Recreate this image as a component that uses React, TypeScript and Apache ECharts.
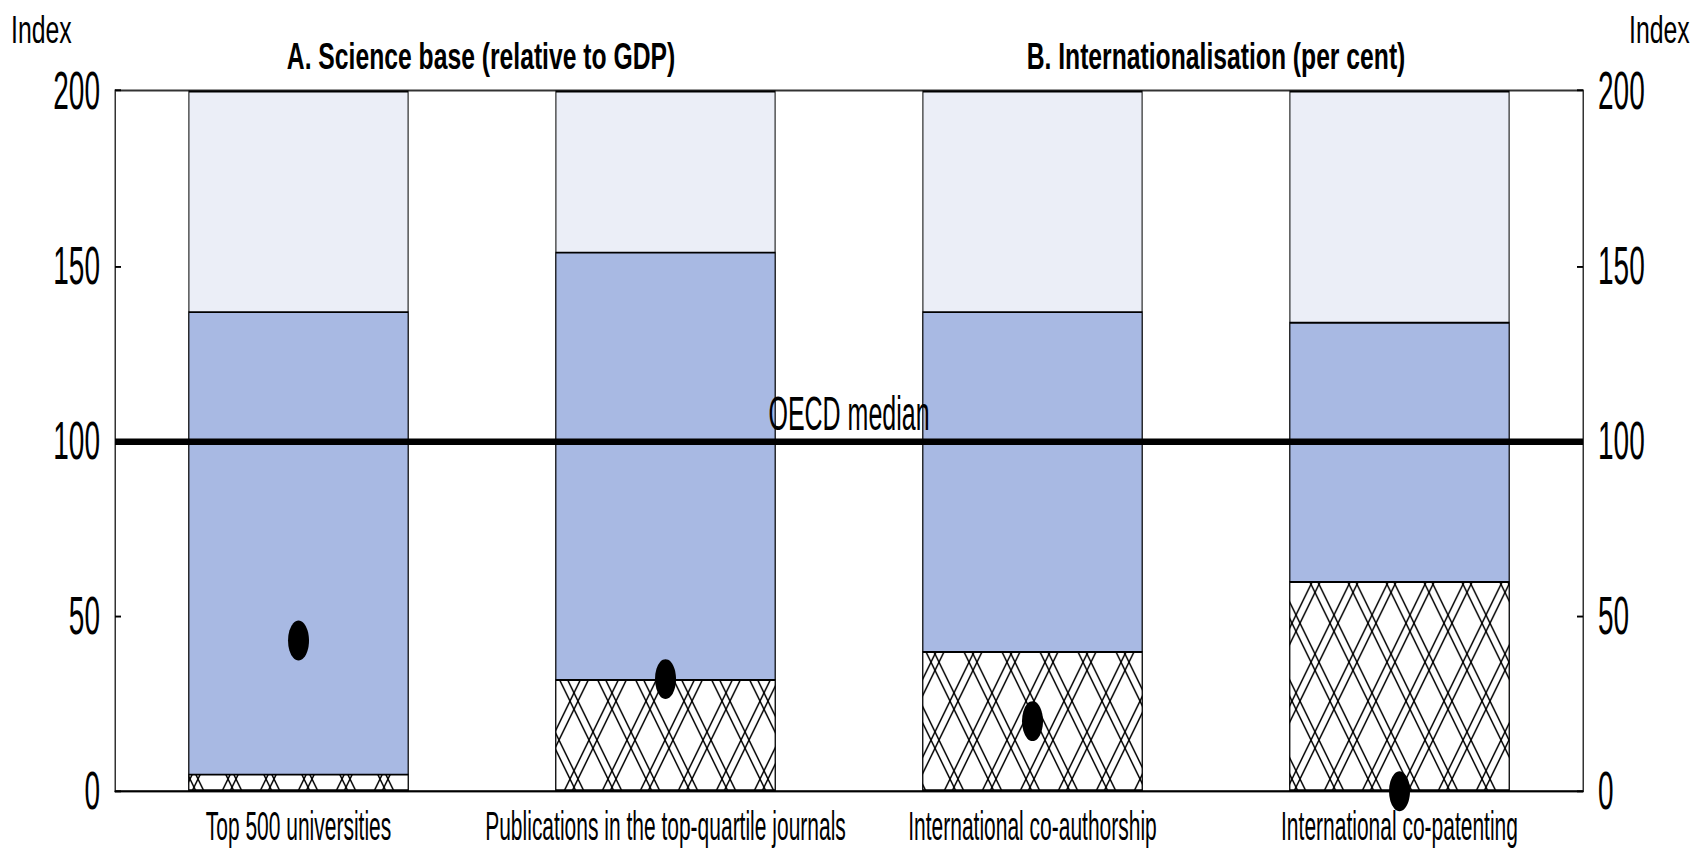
import React, { useEffect, useRef } from "react";
import * as echarts from "echarts";

// ---- data ----
const categories = [
  "Top 500 universities",
  "Publications in the top-quartile journals",
  "International co-authorship",
  "International co-patenting",
];
const rangeTop = [200, 200, 200, 200];
const upperValues = [137, 154, 137, 134];
const lowerValues = [5, 32, 40, 60];
const countryValues = [43, 32, 20, 0];
const yMin = 0;
const yMax = 200;
const yInterval = 50;
const medianValue = 100;
const panelTitles = ["A. Science base (relative to GDP)", "B. Internationalisation (per cent)"];
const axisUnit = "Index";
const medianLabel = "OECD median";

// ---- layout ----
const S = 1.9; // vertical stretch of the whole picture
const W = 1708;
const H = 852;
const CH = H / S;
const FONT = '"Liberation Sans", Arial, sans-serif';

function makeHatch(): HTMLCanvasElement {
  const w = 38, h = 41, k = 4, d = 8;
  const c = document.createElement("canvas");
  c.width = w * k;
  c.height = h * k;
  const g = c.getContext("2d")!;
  g.fillStyle = "#ffffff";
  g.fillRect(0, 0, c.width, c.height);
  g.strokeStyle = "#000000";
  g.lineWidth = 1.2 * k;
  g.beginPath();
  for (const ox of [-w, 0, w]) {
    for (const b of [0, d]) {
      const x0 = ox + b;
      g.moveTo((x0 - w) * k, -h * k);
      g.lineTo((x0 + 2 * w) * k, 2 * h * k);
      g.moveTo((x0 - w) * k, 2 * h * k);
      g.lineTo((x0 + 2 * w) * k, -h * k);
    }
  }
  g.stroke();
  return c;
}

export default function App() {
  const ref = useRef<HTMLDivElement>(null);
  useEffect(() => {
    if (!ref.current) return;
    const chart = echarts.init(ref.current, null, { renderer: "svg" });
    const hatch = makeHatch();
    const hatchPattern: any = {
      image: hatch.toDataURL(),
      repeat: "repeat",
      imageWidth: 38,
      imageHeight: 41,
    };
    const yAxisCommon = {
      type: "value",
      min: yMin,
      max: yMax,
      interval: yInterval,
      axisLine: { show: true, lineStyle: { color: "#333", width: 1 } },
      axisTick: { show: true, inside: true, length: 6, lineStyle: { color: "#000", width: 1 } },
      axisLabel: { color: "#000", fontSize: 28, margin: 15, fontFamily: FONT },
      splitLine: { show: false },
    };
    const titleStyle = (text: string) => ({
      text,
      font: `bold 24.7px ${FONT}`,
      fill: "#000",
      align: "center",
      verticalAlign: "middle",
      textAlign: "center",
      textVerticalAlign: "middle",
    });
    const unitStyle = {
      text: axisUnit,
      font: `24.8px ${FONT}`,
      fill: "#000",
      align: "left",
      verticalAlign: "middle",
      textAlign: "left",
      textVerticalAlign: "middle",
    };
    const option: any = {
      animation: false,
      textStyle: { fontFamily: FONT },
      grid: {
        left: 115,
        right: W - 1583,
        top: 90.5 / S,
        bottom: CH - 792 / S,
        show: true,
        borderColor: "#333",
        borderWidth: 1,
        containLabel: false,
      },
      xAxis: {
        type: "category",
        data: categories,
        axisTick: { show: false },
        axisLine: { show: true, lineStyle: { color: "#000", width: 1 } },
        axisLabel: { color: "#000", fontSize: 21, margin: 8, interval: 0, fontFamily: FONT },
      },
      yAxis: [
        { ...yAxisCommon, position: "left" },
        { ...yAxisCommon, position: "right" },
      ],
      series: [
        {
          type: "bar",
          name: "Range",
          data: rangeTop,
          barCategoryGap: "40%",
          barGap: "-100%",
          itemStyle: { color: "#EBEEF7", borderColor: "#000", borderWidth: 1 },
        },
        {
          type: "bar",
          name: "Upper",
          data: upperValues,
          barCategoryGap: "40%",
          barGap: "-100%",
          itemStyle: { color: "#A8B9E3", borderColor: "#000", borderWidth: 1 },
        },
        {
          type: "bar",
          name: "Lower",
          data: lowerValues,
          barCategoryGap: "40%",
          barGap: "-100%",
          itemStyle: { color: hatchPattern, borderColor: "#000", borderWidth: 1 },
        },
        {
          type: "scatter",
          name: "Country",
          data: countryValues,
          symbol: "circle",
          symbolSize: 21,
          z: 5,
          itemStyle: { color: "#000", opacity: 1 },
          markLine: {
            silent: true,
            symbol: ["none", "none"],
            data: [{ yAxis: medianValue }],
            lineStyle: { color: "#000", width: 3.4, type: "solid", opacity: 1 },
            label: {
              show: true,
              position: "middle",
              formatter: medianLabel,
              color: "#000",
              fontSize: 25,
              distance: 2,
              fontFamily: FONT,
            },
          },
        },
      ],
      graphic: [
        { type: "text", x: 481, y: 56.5 / S, scaleY: 0.78, style: titleStyle(panelTitles[0]) },
        { type: "text", x: 1216, y: 56.5 / S, scaleY: 0.78, style: titleStyle(panelTitles[1]) },
        { type: "text", x: 11, y: 29 / S, scaleY: 0.83, style: unitStyle },
        { type: "text", x: 1629, y: 29 / S, scaleY: 0.83, style: unitStyle },
      ],
    };
    chart.setOption(option);
    return () => chart.dispose();
  }, []);
  return (
    <div
      ref={ref}
      style={{
        position: "absolute",
        left: 0,
        top: 0,
        width: W,
        height: CH,
        transform: `scaleY(${S})`,
        transformOrigin: "0 0",
      }}
    />
  );
}
